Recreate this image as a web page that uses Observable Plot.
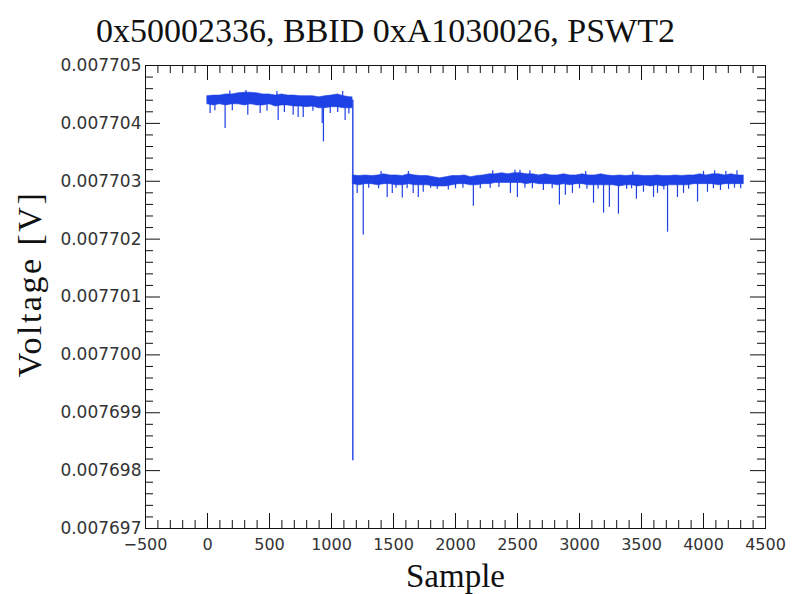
<!DOCTYPE html>
<html><head><meta charset="utf-8">
<script src="https://cdn.jsdelivr.net/npm/d3@7"></script>
<script src="https://cdn.jsdelivr.net/npm/@observablehq/plot@0.6"></script>
<style>
body{margin:0;background:#fff;}
#wrap{position:relative;width:792px;height:594px;}
#title{position:absolute;left:0;width:771px;top:11px;text-align:center;font-family:"Liberation Serif";font-size:34px;line-height:40px;color:#111;white-space:nowrap;}
</style></head><body>
<div id="wrap"><div id="title"></div></div>
<script>
const chartTitle = "0x50002336, BBID 0xA1030026, PSWT2";
const xLabel = "Sample";
const yLabel = "Voltage [V]";
const xMajor = [-500, 0, 500, 1000, 1500, 2000, 2500, 3000, 3500, 4000, 4500];
const yMajor = [0.007697, 0.007698, 0.007699, 0.007700, 0.007701, 0.007702, 0.007703, 0.007704, 0.007705];
const xMinor = [-400,-300,-200,-100,100,200,300,400,600,700,800,900,1100,1200,1300,1400,1600,1700,1800,1900,2100,2200,2300,2400,2600,2700,2800,2900,3100,3200,3300,3400,3600,3700,3800,3900,4100,4200,4300,4400];
const yMinor = [0.0076972,0.0076974,0.0076976,0.0076978,0.0076982,0.0076984,0.0076986,0.0076988,0.0076992,0.0076994,0.0076996,0.0076998,0.0077002,0.0077004,0.0077006,0.0077008,0.0077012,0.0077014,0.0077016,0.0077018,0.0077022,0.0077024,0.0077026,0.0077028,0.0077032,0.0077034,0.0077036,0.0077038,0.0077042,0.0077044,0.0077046,0.0077048];

// first level (before the step): band top / bottom envelope
const seg1Sample = [0,50,100,150,200,250,300,350,400,450,500,550,600,650,700,750,800,850,900,950,1000,1050,1100,1150,1170];
const seg1Hi = [0.00770447,0.00770448,0.00770448,0.00770450,0.00770450,0.00770452,0.00770453,0.00770453,0.00770452,0.00770450,0.00770450,0.00770448,0.00770450,0.00770448,0.00770448,0.00770447,0.00770447,0.00770447,0.00770445,0.00770447,0.00770448,0.00770450,0.00770447,0.00770445,0.00770445];
const seg1Lo = [0.00770433,0.00770431,0.00770433,0.00770431,0.00770433,0.00770433,0.00770431,0.00770433,0.00770431,0.00770431,0.00770433,0.00770429,0.00770431,0.00770431,0.00770429,0.00770429,0.00770428,0.00770429,0.00770426,0.00770426,0.00770428,0.00770428,0.00770426,0.00770426,0.00770426];
// second level (after the step)
const seg2Sample = [1175,1225,1275,1325,1375,1425,1475,1525,1575,1625,1675,1725,1775,1825,1875,1925,1975,2025,2075,2125,2175,2225,2275,2325,2375,2425,2475,2525,2575,2625,2675,2725,2775,2825,2875,2925,2975,3025,3075,3125,3175,3225,3275,3325,3375,3425,3475,3525,3575,3625,3675,3725,3775,3825,3875,3925,3975,4025,4075,4125,4175,4225,4275,4325];
const seg2Hi = [0.00770310,0.00770309,0.00770310,0.00770309,0.00770310,0.00770312,0.00770310,0.00770310,0.00770309,0.00770312,0.00770310,0.00770309,0.00770309,0.00770307,0.00770305,0.00770307,0.00770309,0.00770309,0.00770310,0.00770307,0.00770309,0.00770310,0.00770312,0.00770312,0.00770314,0.00770312,0.00770314,0.00770314,0.00770312,0.00770312,0.00770310,0.00770312,0.00770310,0.00770310,0.00770312,0.00770310,0.00770310,0.00770312,0.00770310,0.00770310,0.00770312,0.00770310,0.00770309,0.00770310,0.00770309,0.00770310,0.00770310,0.00770309,0.00770309,0.00770310,0.00770309,0.00770309,0.00770310,0.00770309,0.00770310,0.00770310,0.00770312,0.00770310,0.00770312,0.00770312,0.00770310,0.00770312,0.00770310,0.00770310];
const seg2Lo = [0.00770295,0.00770293,0.00770295,0.00770295,0.00770293,0.00770295,0.00770295,0.00770293,0.00770293,0.00770295,0.00770293,0.00770293,0.00770293,0.00770291,0.00770291,0.00770291,0.00770293,0.00770295,0.00770295,0.00770293,0.00770293,0.00770295,0.00770295,0.00770297,0.00770297,0.00770297,0.00770297,0.00770297,0.00770295,0.00770297,0.00770295,0.00770295,0.00770295,0.00770293,0.00770295,0.00770293,0.00770295,0.00770295,0.00770293,0.00770293,0.00770293,0.00770293,0.00770293,0.00770291,0.00770293,0.00770293,0.00770291,0.00770293,0.00770291,0.00770293,0.00770291,0.00770293,0.00770293,0.00770293,0.00770293,0.00770295,0.00770295,0.00770295,0.00770295,0.00770293,0.00770295,0.00770295,0.00770295,0.00770295];

const level1 = 0.0077044;
const level2 = 0.0077030;
// individual spikes: sample and extreme value
const spikeSample = [21,60,142,180,200,310,325,425,480,560,570,620,691,731,772,850,925,935,990,1050,1090,1110,1140,
  1207,1256,1300,1380,1400,1449,1490,1520,1571,1610,1620,1659,1700,1740,1800,1853,1942,2000,2060,2144,2200,2280,2300,2350,2443,2480,2499,2520,2560,2600,2620,2709,2780,2838,2886,2943,3000,3050,3060,3113,3150,3194,3241,3314,3380,3420,3430,3459,3516,3597,3629,3680,3710,3790,3839,3880,3952,4000,4032,4080,4090,4137,4180,4202,4250,4270,4300];
const spikeTip = [0.00770417,0.00770422,0.00770391,0.00770456,0.00770422,0.00770457,0.00770414,0.00770417,0.00770421,0.00770455,0.00770405,0.00770419,0.00770414,0.00770410,0.00770410,0.00770421,0.00770400,0.00770368,0.00770417,0.00770419,0.00770455,0.00770405,0.00770416,
  0.00770279,0.00770207,0.00770288,0.00770287,0.00770317,0.00770272,0.00770279,0.00770288,0.00770271,0.00770287,0.00770317,0.00770279,0.00770272,0.00770281,0.00770288,0.00770286,0.00770285,0.00770287,0.00770288,0.00770257,0.00770287,0.00770288,0.00770318,0.00770289,0.00770279,0.00770319,0.00770272,0.00770319,0.00770288,0.00770318,0.00770287,0.00770284,0.00770287,0.00770259,0.00770276,0.00770279,0.00770287,0.00770317,0.00770286,0.00770262,0.00770286,0.00770245,0.00770255,0.00770243,0.00770286,0.00770287,0.00770316,0.00770269,0.00770281,0.00770272,0.00770279,0.00770285,0.00770212,0.00770272,0.00770279,0.00770286,0.00770264,0.00770317,0.00770281,0.00770287,0.00770318,0.00770284,0.00770317,0.00770286,0.00770288,0.00770318,0.00770287];
const stepSample = 1172;
const stepTop = 0.00770440;
const stepTip = 0.00769817;

document.getElementById("title").textContent = chartTitle;

const blue = "#1e41e6";
const band = [
  ...seg1Sample.map((s, i) => ({s, hi: seg1Hi[i], lo: seg1Lo[i], seg: 1})),
  ...seg2Sample.map((s, i) => ({s, hi: seg2Hi[i], lo: seg2Lo[i], seg: 2}))
];
const spikes = spikeSample.map((s, i) => ({s, tip: spikeTip[i], base: s < stepSample ? level1 : level2}));

const W = 792, H = 594, mL = 145, mR = 27, mT = 65, mB = 66;
const fw = W - mL - mR, fh = H - mT - mB;
const major = 15, minor = 8;
const ink = "#111";

const chart = Plot.plot({
  width: W, height: H,
  marginLeft: mL, marginRight: mR, marginTop: mT, marginBottom: mB,
  style: {fontFamily: "DejaVu Sans", background: "#fff", color: ink},
  x: {domain: [-500, 4500]},
  y: {domain: [0.007697, 0.007705]},
  marks: [
    Plot.areaY(band, {x: "s", y1: "lo", y2: "hi", z: "seg", fill: blue, stroke: blue, strokeWidth: 0.6}),
    Plot.ruleX(spikes, {x: "s", y1: "base", y2: "tip", stroke: blue, strokeWidth: 1.2}),
    Plot.ruleX([stepSample], {x: d => d, y1: stepTop, y2: stepTip, stroke: blue, strokeWidth: 1.4}),
    Plot.ruleY(yMajor, {y: d => d, insetRight: fw - major, stroke: ink}),
    Plot.ruleY(yMajor, {y: d => d, insetLeft: fw - major, stroke: ink}),
    Plot.ruleY(yMinor, {y: d => d, insetRight: fw - minor, stroke: ink}),
    Plot.ruleY(yMinor, {y: d => d, insetLeft: fw - minor, stroke: ink}),
    Plot.ruleX(xMajor, {x: d => d, insetTop: fh - major, stroke: ink}),
    Plot.ruleX(xMajor, {x: d => d, insetBottom: fh - major, stroke: ink}),
    Plot.ruleX(xMinor, {x: d => d, insetTop: fh - minor, stroke: ink}),
    Plot.ruleX(xMinor, {x: d => d, insetBottom: fh - minor, stroke: ink}),
    Plot.frame({stroke: ink}),
    Plot.axisY(yMajor, {tickSize: 0, tickPadding: 4, tickFormat: d3.format(".6f"), fontSize: 17, label: null, fill: "#333"}),
    Plot.axisX(xMajor, {tickSize: 0, tickPadding: 10, tickFormat: d3.format("d"), fontSize: 16, label: null, fill: "#333"}),
    Plot.text([xLabel], {frameAnchor: "bottom", lineAnchor: "bottom", dy: 58, fontFamily: "Liberation Serif", fontSize: 33, fill: ink}),
    Plot.text([yLabel], {frameAnchor: "left", textAnchor: "middle", dx: -115, dy: -13, rotate: -90, fontFamily: "Liberation Serif", fontSize: 34, fill: ink})
  ]
});
d3.select(chart).selectAll("text").filter(function () { return this.textContent === yLabel; }).style("letter-spacing", "2.5px");
document.getElementById("wrap").appendChild(chart);
</script>
</body></html>
